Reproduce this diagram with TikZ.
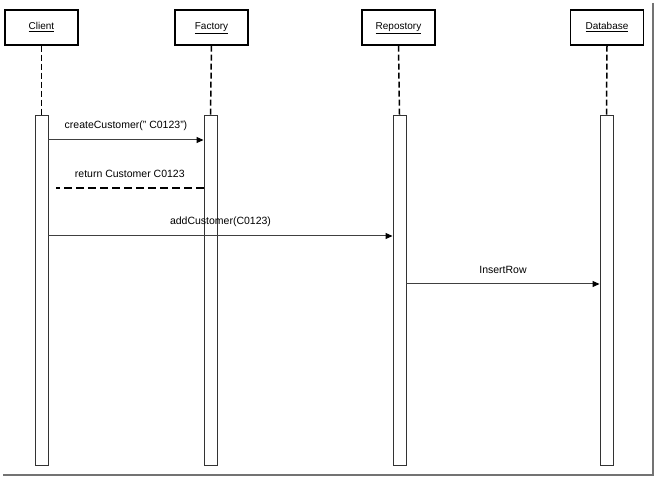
\documentclass[tikz,border=0pt]{standalone}
\usepackage{fontspec}
\setmainfont{Liberation Sans}
\usetikzlibrary{arrows.meta}

\begin{document}
\begin{tikzpicture}[x=1pt, y=-1pt,
    obj/.style={draw, line width=1.2pt, minimum width=73pt, minimum height=35pt, inner sep=0pt, text height=7.5pt, text depth=2.5pt, font=\fontsize{10}{12}\selectfont},
    bar/.style={draw=black!80, line width=0.9pt, fill=white, minimum width=13pt, minimum height=350pt, inner sep=0pt},
    life/.style={line width=1.5pt, dash pattern=on 6pt off 3pt},
    msg/.style={draw=black!75, line width=1pt, -{Triangle[length=7pt,width=6pt,color=black]}},
    ret/.style={line width=1.5pt, dash pattern=on 8pt off 4pt},
    lbl/.style={font=\fontsize{10.5}{12}\selectfont, inner sep=1pt}]
    \useasboundingbox (0,0) rectangle (656,478);
    % objects
    \node[obj] (client) at (41.5,27.5) {\underline{Client}};
    \node[obj] (factory) at (211.5,27.5) {\underline{Factory}};
    \node[obj] (repo) at (398.5,27.5) {\underline{Repostory}};
    \node[obj] (db) at (607,27.5) {\underline{Database}};
    % activation bars
    \node[bar] (clientbar) at (41.5,290) {};
    \node[bar] (factorybar) at (210.5,290) {};
    \node[bar] (repobar) at (399.5,290) {};
    \node[bar] (dbbar) at (606.5,290) {};
    % lifelines
    \draw[life] (client.south) -- (clientbar.north);
    \draw[life] (factory.south) -- (factorybar.north);
    \draw[life] (repo.south) -- (repobar.north);
    \draw[life] (db.south) -- (dbbar.north);
    % messages
    \coordinate (m1) at (0,140);
    \coordinate (m2) at (56,188);
    \coordinate (m3) at (0,236);
    \coordinate (m4) at (0,284);
    \draw[msg] (clientbar.east |- m1) -- node[lbl, above=8pt] {createCustomer(" C0123")} (factorybar.west |- m1);
    \draw[ret] (factorybar.west |- m2) -- node[lbl, above=9pt] {return Customer C0123} (m2);
    \draw[msg] (clientbar.east |- m3) -- node[lbl, above=8pt] {addCustomer(C0123)} (repobar.west |- m3);
    \draw[msg] (repobar.east |- m4) -- node[lbl, above=9pt] {InsertRow} (dbbar.west |- m4);
    % frame shadow
    \draw[black!55, line width=2pt] (653,3) -- (653,475) -- (3,475);
\end{tikzpicture}
\end{document}
